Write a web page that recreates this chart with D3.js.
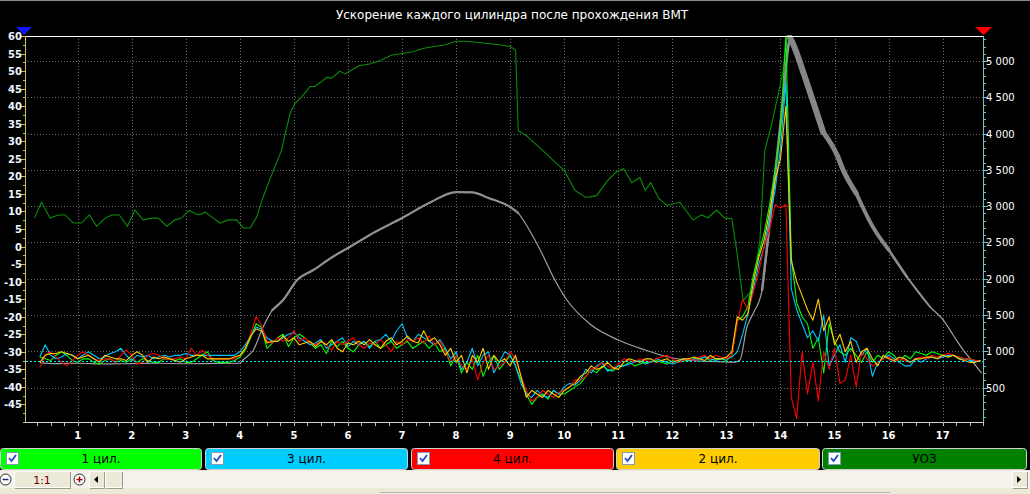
<!DOCTYPE html>
<html><head><meta charset="utf-8">
<script src="https://cdn.jsdelivr.net/npm/d3@7"></script>
<style>html,body{margin:0;padding:0;background:#000;overflow:hidden}</style>
</head><body><svg id="c" width="1030" height="494"></svg>
<script>
const title = "Ускорение каждого цилиндра после прохождения ВМТ";
const xTicks = [1,2,3,4,5,6,7,8,9,10,11,12,13,14,15,16,17];
const leftTicks = [-45,-40,-35,-30,-25,-20,-15,-10,-5,0,5,10,15,20,25,30,35,40,45,50,55,60];
const rightTicks = [500,1000,1500,2000,2500,3000,3500,4000,4500,5000];
const legendNames = ["1 цил.","3 цил.","4 цил.","2 цил.","УОЗ"];
const baseLevel = -32.5;

// cylinder accelerations, sampled every 0.1 from t=0.3 to t=17.7 (left axis units)
const cyl1 = [
-31.5,-32,-32.5,-31,-30,-31,-32.5,-33,-32,-32,
-33,-33.5,-32.5,-32,-33,-32.5,-33,-32,-33,-32,
-32.5,-33,-33,-32,-32,-32.5,-32,-33,-33,-32,
-31,-30,-32.5,-33,-33,-33,-32.5,-31.5,-29.5,-26,
-22,-23,-29,-27.5,-26,-25,-28.5,-26,-25,-26,
-27.5,-29,-28,-30.5,-27,-28.5,-27,-29,-30,-28,
-27,-28.5,-27,-29,-28,-27,-29,-28,-27,-29,
-28,-27,-29,-27.5,-30,-29,-34,-31,-36,-33,
-35,-31,-37,-33,-31,-35,-33,-31,-34,-38,
-42,-45,-43,-42,-43.5,-41,-42,-42,-41,-40,
-39,-37,-35,-36,-34,-35,-35.5,-34,-34,-33,
-34,-33.5,-33,-33,-32.5,-33,-33.5,-32.5,-33,-32.5,
-32.5,-32,-32,-31.5,-32.5,-32,-32,-32.5,-31,-21,
-20,-17,-8,-2,4,12,22,33,60,-3,
-16,-20,-22,-29,-26,-36,-22,-27,-30,-31,
-29,-31,-33,-30,-33,-31,-32,-30,-31,-33,
-31,-32,-30,-30.5,-31,-30,-30.5,-31,-31.5,-31,
-31.5,-32,-32,-32.5,-32.5];
const cyl3 = [
-31.5,-28,-31,-32,-31.5,-30.5,-31,-32,-31,-30,
-31,-32,-31.5,-30.5,-30,-29,-31,-32.5,-31,-31.5,
-31,-32,-31.5,-31,-31.5,-31,-31,-30.5,-31,-31,
-31,-31,-31,-31,-31,-31,-31,-30,-28,-25.5,
-23,-23.5,-26,-27,-27,-26,-25,-24.5,-26,-27,
-28,-27.5,-26.5,-29,-28,-27,-26,-28.5,-27,-28,
-27,-29,-27,-26.5,-25,-27,-24,-22,-26,-27,
-25,-26,-27,-28,-26.5,-29,-32,-30,-35,-33,
-29,-34,-31,-30,-36,-33,-30,-31,-34,-39,
-42,-43,-41,-42.5,-43,-41,-42,-40,-39,-39.5,
-38,-35,-36,-34,-33,-35.5,-35,-34,-34,-33.5,
-33,-32.5,-33.5,-33,-32,-32.5,-33,-33.5,-33,-32,
-32.5,-32,-32,-31.5,-32,-32.5,-32,-32,-31.5,-30,
-25,-19,-12,-5,0,8,16,28,47,-12,
-18,-22,-26,-24,-27,-19.5,-34,-31,-28,-33,
-26,-27,-31,-29,-37,-33,-32,-31,-32,-33,
-34,-34,-32,-33,-32,-31.5,-32,-31.5,-31,-31,
-32,-32,-32.5,-32.5,-32.5];
const cyl4 = [
-34.5,-31,-30,-31.5,-33,-34,-32.5,-31,-30,-31,
-32,-32.5,-32,-32,-33,-31,-29.5,-31,-33.5,-33,
-31,-30.5,-31,-32,-32,-32,-31.5,-32,-29,-31,
-29.5,-31,-32,-32,-32,-32,-32,-31,-29,-25,
-20,-22.5,-27,-27.5,-26,-27,-26,-24,-27,-26,
-27.5,-28,-27,-28,-29.5,-27,-28,-27,-26,-28,
-29,-27.5,-28,-26.5,-28,-30,-27,-28,-26.5,-27,
-26,-27.5,-25.5,-28,-27,-30,-33,-31,-34,-35,
-32,-38,-33,-31,-35,-34,-33,-30,-32,-37,
-41,-44,-43,-41,-42,-43,-41.5,-41,-40,-38,
-38,-37,-35,-34.5,-33,-34,-35,-33.5,-32,-32.5,
-33,-32,-32.5,-33,-32,-31.5,-31,-32,-33,-32.5,
-32,-32.5,-31.5,-31,-32,-31,-31.5,-32,-31,-22,
-15,-18,-13,-7,0,5,12,11,12,-43,
-49,-30,-42,-33,-44,-30,-35,-29,-39,-38,
-31,-40,-30,-32,-34,-33,-32,-31.5,-33,-32,
-32.5,-33,-32,-31.5,-32,-31,-31.5,-31,-30.5,-31,
-31.5,-32,-32,-32.5,-32.5];
const cyl2 = [
-33,-31,-30.5,-30.5,-30,-30.5,-31,-32,-31.5,-31,
-32,-33,-31,-31.5,-32,-32,-32.5,-31,-30,-31,
-33,-31.5,-32,-31.5,-32,-32.5,-33,-32,-31.5,-31,
-31,-32,-32,-32,-32,-32,-31.5,-31,-29,-25.5,
-23.5,-24,-27.5,-27,-27,-25.5,-27,-26,-28,-27.5,
-27,-28.5,-27,-28,-26.5,-29,-30,-27.5,-28,-27,
-28,-26.5,-28,-29,-27,-26,-28,-27,-25.5,-27,
-27.5,-24,-27,-26,-28,-31,-29,-33,-31,-36,
-31,-33,-29,-35,-31,-33,-32,-34,-31,-37,
-43,-41,-42,-43,-41,-42,-43,-41,-40,-39,
-37,-36,-34,-35,-34.5,-33,-34.5,-35,-33,-32,
-32.5,-33,-32,-32,-33,-32.5,-32,-33,-32.5,-32,
-32,-31.5,-32,-32.5,-31,-32,-32,-31.5,-30,-20,
-21,-19,-10,-3,2,10,19,25,40,-4,
-10,-14,-18,-21,-15,-24,-20,-28,-25,-30,
-27,-33,-30,-29,-32,-34,-31,-32,-32.5,-31.5,
-32,-33,-32,-32,-31.5,-31.5,-32,-31,-31.5,-31,
-32,-32.5,-33,-33,-32.5];

// УОЗ (left axis)
const uozT = [0.2,0.33,0.49,0.64,0.77,0.92,1.07,1.22,1.35,1.51,1.63,1.77,1.92,2.06,2.21,2.37,2.49,2.65,2.8,2.92,3.06,3.23,3.36,3.51,3.63,3.79,3.94,4.06,4.19,4.31,4.43,4.62,4.77,4.84,4.93,5.02,5.14,5.3,5.39,5.61,5.7,5.85,5.95,6.04,6.2,6.4,6.6,6.8,7.0,7.2,7.4,7.6,7.8,8.0,8.2,8.5,8.8,9.0,9.1,9.15,9.3,9.6,9.8,10.0,10.2,10.4,10.6,10.8,10.95,11.1,11.25,11.4,11.5,11.6,11.75,11.9,12.14,12.38,12.54,12.66,12.82,12.97,13.1,13.19,13.31,13.47,13.62,13.71,13.84,13.96,14.05,14.11,14.13];
const uozV = [8.1,12.6,8.1,9.0,9.0,6.7,6.7,9.0,5.8,8.1,9.0,9.0,5.8,10.4,7.6,8.1,8.1,5.8,7.6,8.1,10.3,9.0,9.8,8.1,6.7,7.6,7.6,5.3,5.3,8.4,14.1,21.7,27.4,32.2,37.9,40.8,42.6,45.6,45.6,48.2,48.0,50.0,49.2,50,51.5,52,53,54.5,55,55.5,56.5,57,57.5,58.5,58.5,58,57.5,57,56,33,31.6,27.4,24.5,21.7,16,14,14.5,18.8,21.1,22.2,18.2,19.7,16,18.2,13.7,11.7,12.6,7.6,9.0,8.2,10.4,8.1,7.9,-1.1,-15.4,-12.5,1.7,27.4,35,43.5,50.2,58.7,60];

// RPM (right axis)
const rpmT = [0.3,0.6,1.0,1.5,2.0,2.5,3.0,3.5,4.0,4.06,4.25,4.43,4.6,4.8,5.06,5.36,5.72,6.04,6.5,7.0,7.5,8.0,8.3,8.6,9.0,9.15,9.3,9.6,9.8,10.05,10.5,11.0,11.5,12.0,12.5,13.0,13.15,13.25,13.38,13.5,13.66,13.85,13.96,14.05,14.12,14.17,14.23,14.42,14.6,14.79,15.05,15.16,15.4,15.71,16.0,16.34,16.77,17.01,17.2,17.38,17.5,17.72];
const rpmV = [840,830,835,825,830,835,828,832,835,880,1017,1334,1568,1706,1982,2120,2303,2441,2643,2836,3043,3194,3190,3112,2988,2905,2740,2330,2020,1706,1362,1155,1017,907,866,852,850,880,1334,1527,1844,3084,3850,4504,5055,5330,5240,4850,4450,4020,3700,3498,3180,2712,2400,2023,1610,1431,1217,1017,907,700];

const cylT = cyl1.map((_, i) => +(0.3 + 0.1 * i).toFixed(2));

const svg = d3.select('#c');
const X0 = 25, X1 = 983, Y0 = 36, Y1 = 422;
const x = d3.scaleLinear().domain([0, 17.75]).range([23.6, 983.2]);
const yL = d3.scaleLinear().domain([-50, 60]).range([Y1, Y0]);
const yR = d3.scaleLinear().domain([25, 5345]).range([Y1, Y0]);
const FONT = "'DejaVu Sans', Verdana, sans-serif";

svg.append('rect').attr('width', 1030).attr('height', 494).attr('fill', '#000');
svg.append('line').attr('x1', 0).attr('x2', 1030).attr('y1', 0.5).attr('y2', 0.5).attr('stroke', '#8c8a80');

svg.append('text').attr('x', 512).attr('y', 19).attr('text-anchor', 'middle')
  .attr('fill', '#fff').attr('font-family', FONT).attr('font-size', 12).text(title);

// grid
const grid = svg.append('g').attr('shape-rendering', 'crispEdges');
grid.selectAll('.gh').data(rightTicks).join('line')
  .attr('x1', X0).attr('x2', X1).attr('y1', d => Math.round(yR(d)) + 0.5).attr('y2', d => Math.round(yR(d)) + 0.5)
  .attr('stroke', '#6a6a6a').attr('stroke-dasharray', '1,2');
grid.selectAll('.gv').data(xTicks).join('line')
  .attr('x1', d => Math.round(x(d)) + 0.5).attr('x2', d => Math.round(x(d)) + 0.5).attr('y1', Y0).attr('y2', Y1)
  .attr('stroke', '#6a6a6a').attr('stroke-dasharray', '1,2');

svg.append('defs').append('clipPath').attr('id', 'clip').append('rect')
  .attr('x', X0 + 1).attr('y', Y0 - 1).attr('width', X1 - X0 - 1).attr('height', Y1 - Y0 + 1);
const plot = svg.append('g').attr('clip-path', 'url(#clip)');

// RPM line (gray) with thicker, tapering segments
const rpmPts = rpmT.map((t, i) => [t, rpmV[i]]);
const lineR = d3.line().x(d => x(d[0])).y(d => yR(d[1])).curve(d3.curveMonotoneX);
plot.append('path').attr('d', lineR(rpmPts)).attr('fill', 'none').attr('stroke', '#a0a0a0').attr('stroke-width', 1.2);
const thick = [[4.6, 9.2, 2.2, '#8f8f8f'], [13.6, 14.2, 2.5, '#8f8f8f'],
  [14.17, 14.8, 6, '#868686'], [14.79, 15.41, 5, '#868686'], [15.4, 16.01, 3.8, '#888'],
  [16.0, 16.35, 2.6, '#8c8c8c'], [16.34, 16.78, 1.8, '#909090']];
thick.forEach(([a, b, w, c]) => {
  const seg = rpmPts.filter(p => p[0] >= a && p[0] <= b);
  plot.append('path').attr('d', lineR(seg)).attr('fill', 'none').attr('stroke', c).attr('stroke-width', w).attr('stroke-linecap', 'round');
});

// УОЗ
const lineL = d3.line().x(d => x(d[0])).y(d => yL(d[1]));
plot.append('path').attr('d', lineL(uozT.map((t, i) => [t, uozV[i]])))
  .attr('fill', 'none').attr('stroke', '#0a8c0a').attr('stroke-width', 1.1);

// cylinders
const cyls = [[cyl1, '#00ff00'], [cyl3, '#00c8ff'], [cyl4, '#ff0000'], [cyl2, '#ffcc00']];
cyls.forEach(([arr, col]) => {
  plot.append('path').attr('d', lineL(arr.map((v, i) => [cylT[i], v])))
    .attr('fill', 'none').attr('stroke', col).attr('stroke-width', 1.1).attr('stroke-linejoin', 'round');
});

// cyan base line (on top)
svg.append('line').attr('x1', X0 + 1).attr('x2', X1)
  .attr('y1', Math.round(yL(baseLevel)) + 0.5).attr('y2', Math.round(yL(baseLevel)) + 0.5)
  .attr('stroke', '#00f0ff').attr('stroke-dasharray', '2,2').attr('shape-rendering', 'crispEdges');

// axes
const ax = svg.append('g').attr('shape-rendering', 'crispEdges');
ax.append('line').attr('x1', X0).attr('x2', X1 + 1).attr('y1', Y0 + 0.5).attr('y2', Y0 + 0.5).attr('stroke', '#fff');
ax.append('line').attr('x1', X0 + 0.5).attr('x2', X0 + 0.5).attr('y1', Y0).attr('y2', Y1 + 1).attr('stroke', '#c8c060');
ax.append('line').attr('x1', X1 + 0.5).attr('x2', X1 + 0.5).attr('y1', Y0).attr('y2', Y1 + 1).attr('stroke', '#78c0c0');
ax.append('line').attr('x1', X0).attr('x2', X1 + 1).attr('y1', Y1 + 0.5).attr('y2', Y1 + 0.5).attr('stroke', '#d0d0d0');

// left ticks
const leftMinor = d3.range(-50, 60.01, 2.5);
ax.selectAll('.lm').data(leftMinor).join('line')
  .attr('x1', X0 - 2).attr('x2', X0).attr('y1', d => Math.round(yL(d)) + 0.5).attr('y2', d => Math.round(yL(d)) + 0.5)
  .attr('stroke', '#c8c060');
ax.selectAll('.lt').data(leftTicks).join('line')
  .attr('x1', X0 - 4).attr('x2', X0).attr('y1', d => Math.round(yL(d)) + 0.5).attr('y2', d => Math.round(yL(d)) + 0.5)
  .attr('stroke', '#c8c060');
svg.selectAll('.ll').data(leftTicks).join('text')
  .attr('x', 22).attr('y', d => yL(d) + 4).attr('text-anchor', 'end')
  .attr('fill', '#eef6ff').attr('font-family', FONT).attr('font-size', 10).attr('font-weight', 'bold')
  .text(d => String(d));

// right ticks
const rightMinor = d3.range(100, 5301, 100);
ax.selectAll('.rm').data(rightMinor).join('line')
  .attr('x1', X1).attr('x2', X1 + 3).attr('y1', d => Math.round(yR(d)) + 0.5).attr('y2', d => Math.round(yR(d)) + 0.5)
  .attr('stroke', '#78c0c0');
ax.selectAll('.rt').data(rightTicks).join('line')
  .attr('x1', X1).attr('x2', X1 + 5).attr('y1', d => Math.round(yR(d)) + 0.5).attr('y2', d => Math.round(yR(d)) + 0.5)
  .attr('stroke', '#78c0c0');
const fmtR = d => d >= 1000 ? Math.floor(d / 1000) + ' ' + String(d % 1000).padStart(3, '0') : String(d);
svg.selectAll('.rl').data(rightTicks).join('text')
  .attr('x', 986).attr('y', d => yR(d) + 4).attr('text-anchor', 'start')
  .attr('fill', '#fff').attr('font-family', FONT).attr('font-size', 10)
  .text(fmtR);

// bottom ticks
const xMinor = d3.range(0.25, 17.76, 0.25);
ax.selectAll('.bm').data(xMinor).join('line')
  .attr('x1', d => Math.round(x(d)) + 0.5).attr('x2', d => Math.round(x(d)) + 0.5).attr('y1', Y1).attr('y2', Y1 + 4)
  .attr('stroke', '#c0c0c0');
svg.selectAll('.bl').data(xTicks).join('text')
  .attr('x', d => x(d)).attr('y', 439).attr('text-anchor', 'middle')
  .attr('fill', '#fff').attr('font-family', FONT).attr('font-size', 10).attr('font-weight', 'bold')
  .text(d => String(d));

// markers
svg.append('path').attr('d', 'M16,27 L32,27 L24,35 Z').attr('fill', '#1414ff');
svg.append('path').attr('d', 'M975,27 L992,27 L983.5,35 Z').attr('fill', '#ff0000');

// legend
const legColors = ['#00ff00', '#00ccff', '#ff0000', '#ffcc00', '#008000'];
const legX = [0, 205, 411, 616, 822];
const legW = [202, 203, 203, 204, 205];
const lg = svg.append('g');
legendNames.forEach((name, i) => {
  const g = lg.append('g').attr('transform', `translate(${legX[i]},448)`);
  g.append('rect').attr('x', 0.5).attr('y', 0.5).attr('width', legW[i] - 1).attr('height', 21).attr('rx', 3)
    .attr('fill', legColors[i]).attr('stroke', '#d0d0d0');
  g.append('rect').attr('x', 6.5).attr('y', 4.5).attr('width', 12).attr('height', 12)
    .attr('fill', '#fff').attr('stroke', '#7f9db9');
  g.append('path').attr('d', 'M9,10 L11.5,13 L16,7').attr('fill', 'none').attr('stroke', '#2146c0').attr('stroke-width', 1.8);
  g.append('text').attr('x', legW[i] / 2).attr('y', 15).attr('text-anchor', 'middle')
    .attr('fill', '#000').attr('font-family', FONT).attr('font-size', 12).text(name);
});

// bottom toolbar
const tb = svg.append('g').attr('shape-rendering', 'crispEdges');
tb.append('rect').attr('x', 0).attr('y', 470).attr('width', 1030).attr('height', 24).attr('fill', '#ece9d8');
tb.append('rect').attr('x', 0).attr('y', 471).attr('width', 1030).attr('height', 17).attr('fill', '#f4f2ea');
tb.append('line').attr('x1', 380).attr('x2', 890).attr('y1', 492.5).attr('y2', 492.5).attr('stroke', '#b8b6ac');
const btn = (bx, bw) => {
  tb.append('rect').attr('x', bx + 0.5).attr('y', 471.5).attr('width', bw).attr('height', 16).attr('fill', '#ece9d8').attr('stroke', '#fff');
  tb.append('path').attr('d', `M${bx + 0.5},${488} H${bx + bw + 0.5} V${471.5}`).attr('fill', 'none').attr('stroke', '#9d9a8c');
};
btn(14, 56); btn(89, 15); btn(105, 17); btn(1012, 15);
svg.append('text').attr('x', 42).attr('y', 484).attr('text-anchor', 'middle').attr('fill', '#700000')
  .attr('font-family', FONT).attr('font-size', 11).text('1:1');
svg.append('circle').attr('cx', 5.5).attr('cy', 479.5).attr('r', 5.5).attr('fill', '#fff').attr('stroke', '#222');
svg.append('line').attr('x1', 2.5).attr('x2', 8.5).attr('y1', 479.5).attr('y2', 479.5).attr('stroke', '#1a2a80').attr('stroke-width', 1.5);
svg.append('circle').attr('cx', 79.5).attr('cy', 479.5).attr('r', 5.5).attr('fill', '#fff').attr('stroke', '#222');
svg.append('path').attr('d', 'M76.5,479.5 H82.5 M79.5,476.5 V482.5').attr('stroke', '#b00000').attr('stroke-width', 1.5);
svg.append('path').attr('d', 'M98,476 L94,479.5 L98,483 Z').attr('fill', '#000');
svg.append('path').attr('d', 'M1017,476 L1021,479.5 L1017,483 Z').attr('fill', '#000');

// sanity
const lens = [cyl1.length, cyl3.length, cyl4.length, cyl2.length];
if (new Set(lens).size > 1 || uozT.length !== uozV.length || rpmT.length !== rpmV.length) {
  svg.append('text').attr('x', 300).attr('y', 100).attr('fill', 'magenta').attr('font-size', 16)
    .text('LEN ' + lens.join(',') + ' uoz ' + uozT.length + '/' + uozV.length + ' rpm ' + rpmT.length + '/' + rpmV.length);
}
</script></body></html>
